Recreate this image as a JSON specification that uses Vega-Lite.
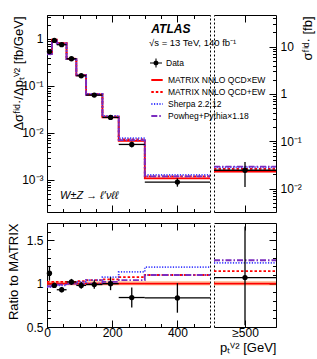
{
"$schema":"https://vega.github.io/schema/vega-lite/v6.json",
"padding":{"left":7,"top":10,"right":5,"bottom":5},
"config":{
 "font":"Liberation Sans",
 "view":{"stroke":null},
 "axis":{"grid":false,"domainColor":"black","domainWidth":1,"tickColor":"black","tickWidth":1,"labelColor":"black","labelFont":"Liberation Sans","labelFontSize":12,"titleFont":"Liberation Sans","titleFontSize":13,"titleFontWeight":"normal","titleColor":"black","labelFlush":false,"labelOverlap":false},
 "legend":{"labelFont":"Liberation Sans","labelFontSize":8.5,"labelColor":"black"}
},
"datasets":{
 "main":[
  {"lo":0,"hi":15,"x":7.5,"d":0.54,"dlo":0.498,"dhi":0.582,"r":1.12,"rlo":1.035,"rhi":1.205},
  {"lo":15,"hi":30,"x":22.5,"d":0.93,"dlo":0.902,"dhi":0.958,"r":0.98,"rlo":0.95,"rhi":1.01},
  {"lo":30,"hi":60,"x":45,"d":0.755,"dlo":0.731,"dhi":0.779,"r":0.93,"rlo":0.9,"rhi":0.96},
  {"lo":60,"hi":90,"x":75,"d":0.38,"dlo":0.367,"dhi":0.393,"r":1.02,"rlo":0.985,"rhi":1.055},
  {"lo":90,"hi":120,"x":105,"d":0.165,"dlo":0.1583,"dhi":0.1717,"r":0.98,"rlo":0.94,"rhi":1.02},
  {"lo":120,"hi":170,"x":145,"d":0.064,"dlo":0.0607,"dhi":0.0673,"r":0.99,"rlo":0.94,"rhi":1.04},
  {"lo":170,"hi":220,"x":195,"d":0.0214,"dlo":0.0198,"dhi":0.023,"r":1.0,"rlo":0.925,"rhi":1.075},
  {"lo":220,"hi":300,"x":260,"d":0.0057,"dlo":0.00492,"dhi":0.00648,"r":0.84,"rlo":0.725,"rhi":0.955},
  {"lo":300,"hi":500,"x":400,"d":0.0009,"dlo":0.00072,"dhi":0.00108,"r":0.835,"rlo":0.665,"rhi":1.005}
 ],
 "predTop":[
  {"lo":0,"hi":15,"matrix":0.49,"mlo":0.478,"mhi":0.505,"qcdew":0.5,"sherpa":0.47,"powheg":0.475},
  {"lo":15,"hi":30,"matrix":0.95,"mlo":0.926,"mhi":0.979,"qcdew":0.969,"sherpa":0.922,"powheg":0.931},
  {"lo":30,"hi":60,"matrix":0.81,"mlo":0.79,"mhi":0.834,"qcdew":0.826,"sherpa":0.794,"powheg":0.802},
  {"lo":60,"hi":90,"matrix":0.375,"mlo":0.366,"mhi":0.386,"qcdew":0.3825,"sherpa":0.375,"powheg":0.375},
  {"lo":90,"hi":120,"matrix":0.168,"mlo":0.164,"mhi":0.173,"qcdew":0.173,"sherpa":0.171,"powheg":0.168},
  {"lo":120,"hi":170,"matrix":0.065,"mlo":0.0634,"mhi":0.067,"qcdew":0.0676,"sherpa":0.0676,"powheg":0.065},
  {"lo":170,"hi":220,"matrix":0.0214,"mlo":0.0209,"mhi":0.022,"qcdew":0.0225,"sherpa":0.023,"powheg":0.0218},
  {"lo":220,"hi":300,"matrix":0.0068,"mlo":0.00663,"mhi":0.007,"qcdew":0.00732,"sherpa":0.00772,"powheg":0.00707},
  {"lo":300,"hi":500,"matrix":0.00108,"mlo":0.001053,"mhi":0.001112,"qcdew":0.00119,"sherpa":0.001285,"powheg":0.00119}
 ],
 "predRat":[
  {"lo":0,"hi":15,"matrix":1,"mlo":0.98,"mhi":1.03,"qcdew":1.02,"sherpa":0.96,"powheg":0.97},
  {"lo":15,"hi":30,"matrix":1,"mlo":0.98,"mhi":1.03,"qcdew":1.02,"sherpa":0.97,"powheg":0.98},
  {"lo":30,"hi":60,"matrix":1,"mlo":0.98,"mhi":1.03,"qcdew":1.02,"sherpa":0.98,"powheg":0.99},
  {"lo":60,"hi":90,"matrix":1,"mlo":0.98,"mhi":1.03,"qcdew":1.02,"sherpa":1.0,"powheg":1.0},
  {"lo":90,"hi":120,"matrix":1,"mlo":0.98,"mhi":1.03,"qcdew":1.03,"sherpa":1.02,"powheg":1.0},
  {"lo":120,"hi":170,"matrix":1,"mlo":0.98,"mhi":1.03,"qcdew":1.04,"sherpa":1.04,"powheg":1.0},
  {"lo":170,"hi":220,"matrix":1,"mlo":0.98,"mhi":1.03,"qcdew":1.05,"sherpa":1.076,"powheg":1.02},
  {"lo":220,"hi":300,"matrix":1,"mlo":0.98,"mhi":1.03,"qcdew":1.076,"sherpa":1.135,"powheg":1.04},
  {"lo":300,"hi":500,"matrix":1,"mlo":0.98,"mhi":1.03,"qcdew":1.1,"sherpa":1.19,"powheg":1.1}
 ],
 "ovf":[{"lo":500,"hi":700,"x":600,"d":0.0244,"dlo":0.0108,"dhi":0.0365,"r":1.07,"rlo":0.52,"rhi":1.66}],
 "ovfTop":[{"lo":500,"hi":700,"matrix":0.0228,"mlo":0.0222,"mhi":0.0235,"qcdew":0.0261,"sherpa":0.0283,"powheg":0.029}],
 "ovfRat":[{"lo":500,"hi":700,"matrix":1,"mlo":0.98,"mhi":1.03,"qcdew":1.145,"sherpa":1.24,"powheg":1.27}]
},
"columns":2,
"spacing":{"row":11,"column":4},
"bounds":"flush",
"concat":[
 {
  "width":163,"height":197,
  "resolve":{"axis":{"x":"independent","y":"independent"}},
  "layer":[
   {"data":{"name":"predTop"},"mark":{"type":"rect","color":"#ff6b6b","opacity":0.5},
    "encoding":{
     "x":{"field":"lo","type":"quantitative","scale":{"domain":[0,500],"nice":false,"zero":false},
      "axis":{"orient":"bottom","values":[0,50,100,150,200,250,300,350,400,450],"labels":false,"title":null,"tickSize":{"condition":{"test":"datum.value % 200 == 0","value":-7},"value":-3.5}}},
     "x2":{"field":"hi"},
     "y":{"field":"mlo","type":"quantitative","scale":{"type":"log","domain":[0.000208,3.24],"nice":false},
      "axis":{"orient":"left","values":[0.0003,0.0004,0.0005,0.0006,0.0007,0.0008,0.0009,0.001,0.002,0.003,0.004,0.005,0.006,0.007,0.008,0.009,0.01,0.02,0.03,0.04,0.05,0.06,0.07,0.08,0.09,0.1,0.2,0.3,0.4,0.5,0.6,0.7,0.8,0.9,1,2,3],
       "labelExpr":"datum.value == 1 ? '1' : datum.value == 0.1 ? '10⁻¹' : datum.value == 0.01 ? '10⁻²' : datum.value == 0.001 ? '10⁻³' : ''",
       "labelPadding":11,
       "tickSize":{"condition":{"test":"datum.value == 1 || datum.value == 0.1 || datum.value == 0.01 || datum.value == 0.001","value":-7},"value":-3.5},
       "title":"Δσᶠⁱᵈ·/Δpₜⱽ² [fb/GeV]","titleAnchor":"end","titleX":-22,"titleY":1}},
     "y2":{"field":"mhi"}}},
   {"data":{"name":"predTop"},
    "transform":[{"fold":["matrix","qcdew","sherpa","powheg"],"as":["model","v"]},{"fold":["lo","hi"],"as":["edge","x"]}],
    "mark":{"type":"line","strokeWidth":1.8},
    "encoding":{
     "x":{"field":"x","type":"quantitative","axis":{"orient":"top","values":[0,50,100,150,200,250,300,350,400,450],"labels":false,"title":null,"tickSize":{"condition":{"test":"datum.value % 200 == 0","value":-7},"value":-3.5}}},
     "y":{"field":"v","type":"quantitative","axis":{"orient":"right","labels":false,"ticks":false,"title":null,"domainDash":[2,2]}},
     "color":{"field":"model","type":"nominal","scale":{"domain":["matrix","qcdew","sherpa","powheg"],"range":["#ff0000","#ff0000","#3d3dff","#7b2cbf"]},
      "legend":{"orient":"none","legendX":103,"legendY":58,"title":null,"symbolType":"stroke","symbolSize":130,"symbolStrokeWidth":2,"labelFontSize":8.5,"rowPadding":0,
       "labelExpr":"datum.value == 'matrix' ? 'MATRIX NNLO QCD×EW' : datum.value == 'qcdew' ? 'MATRIX NNLO QCD+EW' : datum.value == 'sherpa' ? 'Sherpa 2.2.12' : 'Powheg+Pythia×1.18'"}},
     "strokeDash":{"field":"model","type":"nominal","scale":{"domain":["matrix","qcdew","sherpa","powheg"],"range":[[1,0],[2.5,2],[1.2,1.5],[6,2,1.5,2]]},
      "legend":{"orient":"none","legendX":103,"legendY":58,"title":null,"symbolType":"stroke","symbolSize":130,"symbolStrokeWidth":2,"labelFontSize":8.5,"rowPadding":0,
       "labelExpr":"datum.value == 'matrix' ? 'MATRIX NNLO QCD×EW' : datum.value == 'qcdew' ? 'MATRIX NNLO QCD+EW' : datum.value == 'sherpa' ? 'Sherpa 2.2.12' : 'Powheg+Pythia×1.18'"}},
     "order":[{"field":"x","type":"quantitative"},{"field":"edge"}]}},
   {"data":{"name":"main"},"mark":{"type":"rule","color":"black","strokeWidth":1.3},
    "encoding":{"x":{"field":"lo","type":"quantitative","axis":null},"x2":{"field":"hi"},"y":{"field":"d","type":"quantitative","axis":null}}},
   {"data":{"name":"main"},"mark":{"type":"rule","color":"black","strokeWidth":1.3},
    "encoding":{"x":{"field":"x","type":"quantitative","axis":null},"y":{"field":"dlo","type":"quantitative","axis":null},"y2":{"field":"dhi"}}},
   {"data":{"name":"main"},"mark":{"type":"point","filled":true,"size":28,"opacity":1},
    "encoding":{"x":{"field":"x","type":"quantitative","axis":null},"y":{"field":"d","type":"quantitative","axis":null},
     "fill":{"datum":"Data","type":"nominal","scale":{"domain":["Data"],"range":["black"]},
      "legend":{"orient":"none","legendX":103,"legendY":42,"title":null,"labelFontSize":8.5,"symbolSize":144,"symbolStrokeWidth":0,
       "symbolType":"M-1,-0.09H1V0.09H-1Z M-0.09,-0.75H0.09V0.75H-0.09Z M0.42,0A0.42,0.42,0,1,1,-0.42,0A0.42,0.42,0,1,1,0.42,0Z"}}}},
   {"data":{"values":[{"t":"ATLAS"}]},"mark":{"type":"text","fontWeight":"bold","fontStyle":"italic","fontSize":12,"align":"left","baseline":"middle"},
    "encoding":{"x":{"datum":320,"type":"quantitative","axis":null},"y":{"datum":1.63,"type":"quantitative","axis":null},"text":{"field":"t"}}},
   {"data":{"values":[{"t":"√s = 13 TeV, 140 fb⁻¹"}]},"mark":{"type":"text","fontSize":9.5,"align":"left","baseline":"middle"},
    "encoding":{"x":{"datum":313,"type":"quantitative","axis":null},"y":{"datum":0.82,"type":"quantitative","axis":null},"text":{"field":"t"}}},
   {"data":{"values":[{"t":"W±Z → ℓ′νℓℓ"}]},"mark":{"type":"text","fontSize":11,"fontStyle":"italic","align":"left","baseline":"middle"},
    "encoding":{"x":{"datum":40,"type":"quantitative","axis":null},"y":{"datum":0.00046,"type":"quantitative","axis":null},"text":{"field":"t"}}}
  ]
 },
 {
  "width":62,"height":197,
  "resolve":{"axis":{"x":"independent","y":"independent"}},
  "layer":[
   {"data":{"name":"ovfTop"},"mark":{"type":"rect","color":"#ff6b6b","opacity":0.5},
    "encoding":{
     "x":{"field":"lo","type":"quantitative","scale":{"domain":[500,700],"nice":false,"zero":false},
      "axis":{"orient":"bottom","values":[600],"labels":false,"title":null,"tickSize":-7}},
     "x2":{"field":"hi"},
     "y":{"field":"mlo","type":"quantitative","scale":{"type":"log","domain":[0.0032,46.8],"nice":false},
      "axis":{"orient":"right","values":[0.004,0.005,0.006,0.007,0.008,0.009,0.01,0.02,0.03,0.04,0.05,0.06,0.07,0.08,0.09,0.1,0.2,0.3,0.4,0.5,0.6,0.7,0.8,0.9,1,2,3,4,5,6,7,8,9,10,20,30,40],
       "labelExpr":"datum.value == 10 ? '10' : datum.value == 1 ? '1' : datum.value == 0.1 ? '10⁻¹' : datum.value == 0.01 ? '10⁻²' : ''",
       "labelPadding":11,
       "tickSize":{"condition":{"test":"datum.value == 10 || datum.value == 1 || datum.value == 0.1 || datum.value == 0.01","value":-7},"value":-3.5},
       "title":"σᶠⁱᵈ· [fb]","titleAnchor":"end","titleAngle":270,"titleAlign":"right","titleBaseline":"top","titleX":25,"titleY":1}},
     "y2":{"field":"mhi"}}},
   {"data":{"name":"ovfTop"},
    "transform":[{"fold":["matrix","qcdew","sherpa","powheg"],"as":["model","v"]}],
    "mark":{"type":"rule","strokeWidth":1.8},
    "encoding":{
     "x":{"field":"lo","type":"quantitative","axis":{"orient":"top","values":[600],"labels":false,"title":null,"tickSize":-7}},
     "x2":{"field":"hi"},
     "y":{"field":"v","type":"quantitative","axis":{"orient":"left","labels":false,"ticks":false,"title":null,"domainDash":[2,2]}},
     "color":{"field":"model","type":"nominal"},
     "strokeDash":{"field":"model","type":"nominal"}}},
   {"data":{"name":"ovf"},"mark":{"type":"rule","color":"black","strokeWidth":1.3},
    "encoding":{"x":{"field":"lo","type":"quantitative","axis":null},"x2":{"field":"hi"},"y":{"field":"d","type":"quantitative","axis":null}}},
   {"data":{"name":"ovf"},"mark":{"type":"rule","color":"black","strokeWidth":1.3},
    "encoding":{"x":{"field":"x","type":"quantitative","axis":null},"y":{"field":"dlo","type":"quantitative","axis":null},"y2":{"field":"dhi"}}},
   {"data":{"name":"ovf"},"mark":{"type":"point","filled":true,"color":"black","size":28,"opacity":1},
    "encoding":{"x":{"field":"x","type":"quantitative","axis":null},"y":{"field":"d","type":"quantitative","axis":null}}}
  ]
 },
 {
  "width":163,"height":104,
  "resolve":{"axis":{"x":"independent","y":"independent"}},
  "layer":[
   {"data":{"name":"predRat"},"mark":{"type":"rect","color":"#ff9a5a","opacity":0.55},
    "encoding":{
     "x":{"field":"lo","type":"quantitative","scale":{"domain":[0,500],"nice":false,"zero":false},
      "axis":{"orient":"bottom","values":[0,50,100,150,200,250,300,350,400,450],"labelExpr":"datum.value % 200 == 0 ? datum.label : ''","labelPadding":7,"title":null,"tickSize":{"condition":{"test":"datum.value % 200 == 0","value":-7},"value":-3.5}}},
     "x2":{"field":"hi"},
     "y":{"field":"mlo","type":"quantitative","scale":{"domain":[0.5,1.7],"nice":false,"zero":false},
      "axis":{"orient":"left","values":[0.5,0.6,0.7,0.8,0.9,1,1.1,1.2,1.3,1.4,1.5,1.6],
       "labelExpr":"datum.value == 0.5 ? '0.5' : datum.value == 1 ? '1' : datum.value == 1.5 ? '1.5' : ''",
       "labelPadding":11,
       "tickSize":{"condition":{"test":"datum.value == 0.5 || datum.value == 1 || datum.value == 1.5","value":-7},"value":-3.5},
       "title":"Ratio to MATRIX","titleAnchor":"end","titlePadding":6}},
     "y2":{"field":"mhi"}}},
   {"data":{"name":"predRat"},
    "transform":[{"fold":["matrix","qcdew","sherpa","powheg"],"as":["model","v"]},{"fold":["lo","hi"],"as":["edge","x"]}],
    "mark":{"type":"line","strokeWidth":1.8},
    "encoding":{
     "x":{"field":"x","type":"quantitative","axis":{"orient":"top","values":[0,50,100,150,200,250,300,350,400,450],"labels":false,"title":null,"tickSize":{"condition":{"test":"datum.value % 200 == 0","value":-7},"value":-3.5}}},
     "y":{"field":"v","type":"quantitative","axis":{"orient":"right","labels":false,"ticks":false,"title":null,"domainDash":[2,2]}},
     "color":{"field":"model","type":"nominal"},
     "strokeDash":{"field":"model","type":"nominal"},
     "order":[{"field":"x","type":"quantitative"},{"field":"edge"}]}},
   {"data":{"name":"main"},"mark":{"type":"rule","color":"black","strokeWidth":1.3},
    "encoding":{"x":{"field":"lo","type":"quantitative","axis":null},"x2":{"field":"hi"},"y":{"field":"r","type":"quantitative","axis":null}}},
   {"data":{"name":"main"},"mark":{"type":"rule","color":"black","strokeWidth":1.3},
    "encoding":{"x":{"field":"x","type":"quantitative","axis":null},"y":{"field":"rlo","type":"quantitative","axis":null},"y2":{"field":"rhi"}}},
   {"data":{"name":"main"},"mark":{"type":"point","filled":true,"color":"black","size":28,"opacity":1},
    "encoding":{"x":{"field":"x","type":"quantitative","axis":null},"y":{"field":"r","type":"quantitative","axis":null}}}
  ]
 },
 {
  "width":62,"height":104,
  "resolve":{"axis":{"x":"independent","y":"independent"}},
  "layer":[
   {"data":{"name":"ovfRat"},"mark":{"type":"rect","color":"#ff9a5a","opacity":0.55},
    "encoding":{
     "x":{"field":"lo","type":"quantitative","scale":{"domain":[500,700],"nice":false,"zero":false},
      "axis":{"orient":"bottom","values":[600],"labelExpr":"'≥500'","labelPadding":7,"tickSize":-7,"title":"pₜⱽ² [GeV]","titleAnchor":"end","titlePadding":3}},
     "x2":{"field":"hi"},
     "y":{"field":"mlo","type":"quantitative","scale":{"domain":[0.5,1.7],"nice":false,"zero":false},
      "axis":{"orient":"right","values":[0.5,0.6,0.7,0.8,0.9,1,1.1,1.2,1.3,1.4,1.5,1.6],"labels":false,"title":null,
       "tickSize":{"condition":{"test":"datum.value == 0.5 || datum.value == 1 || datum.value == 1.5","value":-7},"value":-3.5}}},
     "y2":{"field":"mhi"}}},
   {"data":{"name":"ovfRat"},
    "transform":[{"fold":["matrix","qcdew","sherpa","powheg"],"as":["model","v"]}],
    "mark":{"type":"rule","strokeWidth":1.8},
    "encoding":{
     "x":{"field":"lo","type":"quantitative","axis":{"orient":"top","values":[600],"labels":false,"title":null,"tickSize":-7}},
     "x2":{"field":"hi"},
     "y":{"field":"v","type":"quantitative","axis":{"orient":"left","labels":false,"ticks":false,"title":null,"domainDash":[2,2]}},
     "color":{"field":"model","type":"nominal"},
     "strokeDash":{"field":"model","type":"nominal"}}},
   {"data":{"name":"ovf"},"mark":{"type":"rule","color":"black","strokeWidth":1.3},
    "encoding":{"x":{"field":"lo","type":"quantitative","axis":null},"x2":{"field":"hi"},"y":{"field":"r","type":"quantitative","axis":null}}},
   {"data":{"name":"ovf"},"mark":{"type":"rule","color":"black","strokeWidth":1.3},
    "encoding":{"x":{"field":"x","type":"quantitative","axis":null},"y":{"field":"rlo","type":"quantitative","axis":null},"y2":{"field":"rhi"}}},
   {"data":{"name":"ovf"},"mark":{"type":"point","filled":true,"color":"black","size":28,"opacity":1},
    "encoding":{"x":{"field":"x","type":"quantitative","axis":null},"y":{"field":"r","type":"quantitative","axis":null}}}
  ]
 }
]
}
